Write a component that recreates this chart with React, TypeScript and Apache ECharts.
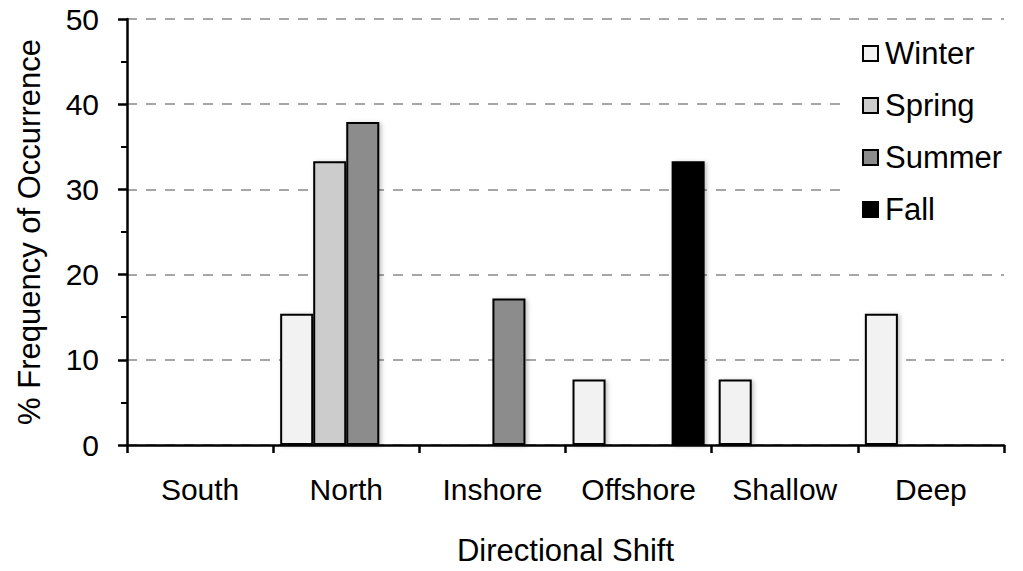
import React, { useEffect, useRef } from "react";
import * as echarts from "echarts";

const categories = ["South", "North", "Inshore", "Offshore", "Shallow", "Deep"];
const seasons = ["Winter", "Spring", "Summer", "Fall"];
const winter = [null, 15.4, null, 7.7, 7.7, 15.4];
const spring = [null, 33.3, null, null, null, null];
const summer = [null, 37.9, 17.2, null, null, null];
const fall = [null, null, null, 33.3, null, null];
const seasonColors = ["#f2f2f2", "#cccccc", "#8c8c8c", "#000000"];

const FONT = "Liberation Sans, Arial, sans-serif";

export default function App() {
  const ref = useRef<HTMLDivElement>(null);
  useEffect(() => {
    if (!ref.current) return;
    const chart = echarts.init(ref.current, null, { renderer: "svg" });
    const dataSets = [winter, spring, summer, fall];
    chart.setOption({
      animation: false,
      backgroundColor: "#fff",
      textStyle: { fontFamily: FONT, color: "#000" },
      grid: { left: 127, right: 19, top: 19, bottom: 120, containLabel: false },
      legend: {
        orient: "vertical",
        left: 848,
        top: 30,
        padding: [8, 20, 12, 14],
        backgroundColor: "#fff",
        itemWidth: 15,
        itemHeight: 15,
        itemGap: 21,
        icon: "rect",
        textStyle: { fontSize: 31, lineHeight: 31, color: "#000", fontFamily: FONT, padding: [0, 0, 0, 2] },
        data: seasons,
      },
      xAxis: {
        type: "category",
        data: categories,
        name: "Directional Shift",
        nameLocation: "middle",
        nameGap: 90,
        nameTextStyle: { fontSize: 31, color: "#000", fontFamily: FONT },
        axisLine: { lineStyle: { color: "#000", width: 2.5 } },
        axisTick: { show: true, interval: 0, length: 8, lineStyle: { color: "#000", width: 2.5 }, alignWithLabel: false },
        axisLabel: { interval: 0, fontSize: 30, color: "#000", margin: 29, fontFamily: FONT },
        splitLine: { show: false },
      },
      yAxis: {
        type: "value",
        min: 0,
        max: 50,
        interval: 10,
        name: "% Frequency of Occurrence",
        nameLocation: "middle",
        nameGap: 82,
        nameTextStyle: { fontSize: 31, color: "#000", fontFamily: FONT },
        axisLine: { show: true, lineStyle: { color: "#000", width: 2.5 } },
        axisTick: { show: true, length: 9, lineStyle: { color: "#000", width: 2.5 } },
        minorTick: { show: true, splitNumber: 2, length: 6, lineStyle: { color: "#000", width: 2 } },
        axisLabel: { fontSize: 30, color: "#000", margin: 28, fontFamily: FONT },
        splitLine: { show: true, lineStyle: { color: "#a6a6a6", width: 2, type: [10, 9] } },
      },
      series: seasons.map((s, i) => ({
        name: s,
        type: "bar",
        data: dataSets[i],
        barGap: "0%",
        barCategoryGap: "9.6%",
        itemStyle: {
          color: seasonColors[i],
          borderColor: "#000",
          borderWidth: 2,
          shadowBlur: 4,
          shadowOffsetX: 2,
          shadowOffsetY: 1,
          shadowColor: "rgba(0,0,0,0.25)",
        },
      })),
    });
    return () => chart.dispose();
  }, []);
  return <div ref={ref} style={{ width: 1023, height: 571, position: "absolute", left: 0, top: 0 }} />;
}
